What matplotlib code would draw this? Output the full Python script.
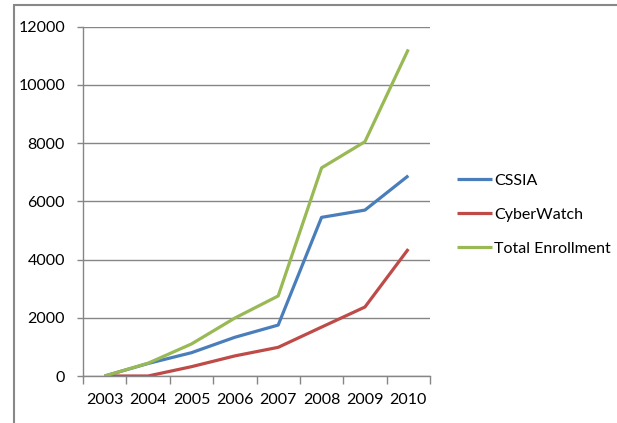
import matplotlib
matplotlib.use("Agg")
import matplotlib.pyplot as plt
from matplotlib.patches import Rectangle

years = ["2003", "2004", "2005", "2006", "2007", "2008", "2009", "2010"]
cssia = [0, 430, 800, 1330, 1750, 5450, 5700, 6880]
cyberwatch = [0, 0, 320, 690, 985, 1680, 2370, 4360]
total = [0, 440, 1100, 1990, 2750, 7150, 8050, 11220]

plt.rcParams['font.family'] = ['Lato', 'DejaVu Sans']

fig = plt.figure(figsize=(6.17, 4.23), dpi=100)
ax = fig.add_axes([83 / 617, 1 - 376 / 423, (430 - 83) / 617, (376 - 26.7) / 423])

x = list(range(len(years)))
ax.plot(x, cssia, color="#4A7EBB", lw=2.3, label="CSSIA", solid_capstyle="butt")
ax.plot(x, cyberwatch, color="#BE4B48", lw=2.3, label="CyberWatch", solid_capstyle="butt")
ax.plot(x, total, color="#98B954", lw=2.3, label="Total Enrollment", solid_capstyle="butt")

ax.set_ylim(0, 12000)
ax.set_yticks(range(0, 12001, 2000))
ax.set_xlim(-0.5, len(years) - 0.5)
ax.set_xticks(x)
ax.set_xticklabels(years)
ax.set_xticks([i - 0.5 for i in range(len(years) + 1)], minor=True)
ax.tick_params(axis="x", which="major", length=0, pad=12, labelsize=11.5, colors="black")
ax.tick_params(axis="x", which="minor", length=6, width=1, color="#868686", direction="out")
ax.tick_params(axis="y", length=4, width=1, color="#868686", pad=9, labelsize=11.5)

ax.yaxis.grid(True, color="#868686", lw=1)
ax.set_axisbelow(True)
for s in ["top", "right"]:
    ax.spines[s].set_visible(False)
for s in ["left", "bottom"]:
    ax.spines[s].set_color("#868686")
    ax.spines[s].set_linewidth(1)

leg = ax.legend(loc="center left", bbox_to_anchor=(1.078, 0.462), frameon=False,
                fontsize=11.5, handlelength=2.2, handletextpad=0.1, labelspacing=1.25,
                borderpad=0, borderaxespad=0)

# outer chart frame (partly cut off in the reference)
fig.add_artist(Rectangle((14 / 617, -0.1), 1.0, 1 - 5 / 423 + 0.1, transform=fig.transFigure,
                         fill=False, edgecolor="#888888", lw=1.5))

fig.savefig("out.png", dpi=100)
